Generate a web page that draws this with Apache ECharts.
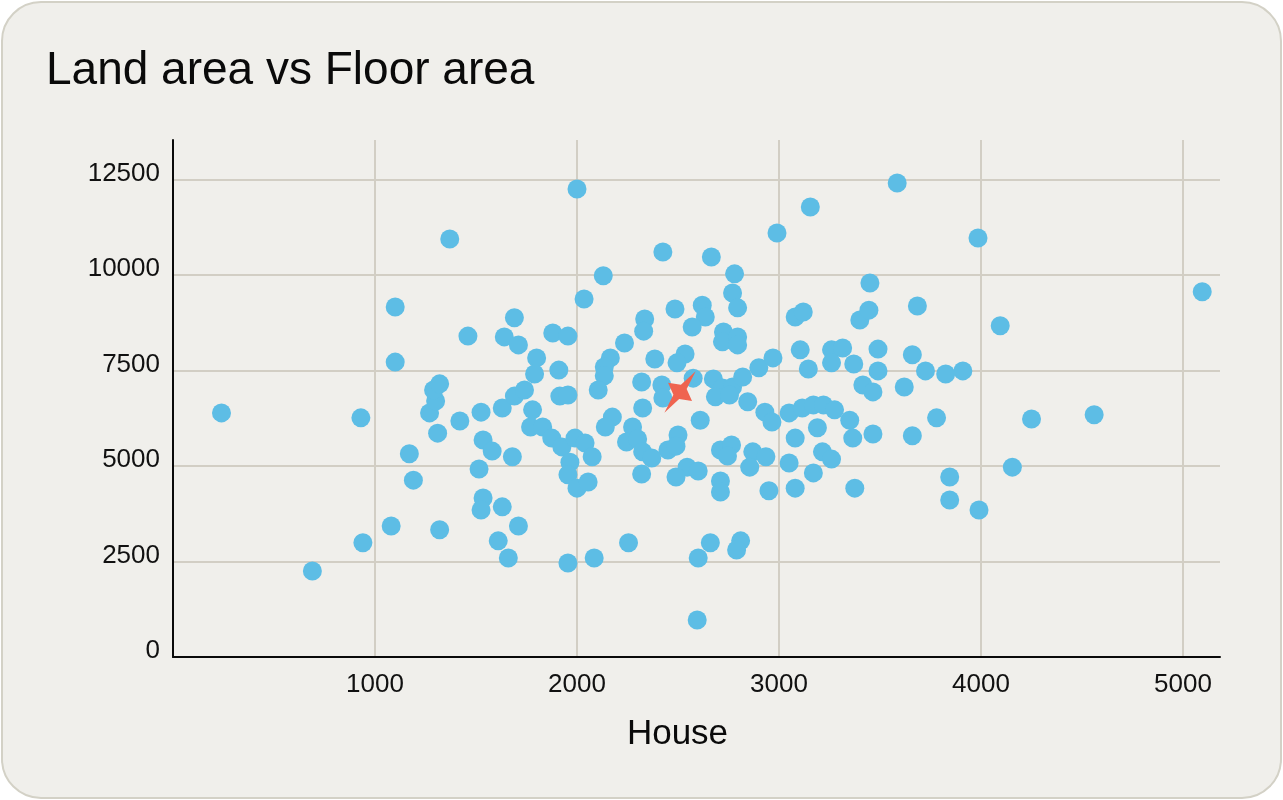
<!DOCTYPE html>
<html>
<head>
<meta charset="utf-8">
<script src="https://cdn.jsdelivr.net/npm/echarts@6/dist/echarts.min.js"></script>
<style>
  html, body { margin: 0; padding: 0; background: #ffffff; }
  #card { position: absolute; left: 1px; top: 1px; width: 1277px; height: 794px;
          background: #f0efeb; border: 2px solid #d3d1c6; border-radius: 40px; }
  #chart { position: absolute; left: 0; top: 0; width: 1283px; height: 800px; }
</style>
</head>
<body>
<div id="card"></div>
<div id="chart"></div>
<script>
const titleText = 'Land area vs Floor area';
const xAxisName = 'House';

// Floor area (x) and land area (y) of each house
const house = [
  240, 690, 930, 940, 1100, 1100, 1080, 1170, 1190, 1370,
  1270, 1300, 1290, 1320, 1310, 1320, 1420, 1460, 1525, 1535,
  1580, 1515, 1535, 1525, 1630, 1710, 1610, 1660, 1630, 1690,
  1740, 1780, 1770, 1830, 1680, 1640, 1690, 1710, 1800, 1790,
  1910, 1880, 1955, 1915, 1955, 1875, 1925, 1990, 2040, 2075,
  1965, 1955, 2000, 2055, 1955, 2085, 2000, 2130, 2035, 2165,
  2135, 2135, 2105, 2235, 2335, 2330, 2320, 2175, 2140, 2275,
  2245, 2300, 2325, 2370, 2320, 2325, 2255, 2385, 2425, 2420,
  2425, 2485, 2620, 2635, 2570, 2665, 2780, 2770, 2795, 2725,
  2720, 2795, 2795, 2535, 2495, 2575, 2675, 2720, 2770, 2820,
  2685, 2755, 2610, 2845, 2900, 2970, 2930, 2965, 2500, 2450,
  2490, 2545, 2600, 2490, 2710, 2765, 2745, 2870, 2935, 2855,
  2710, 2710, 2950, 2660, 2600, 2810, 2790, 2595, 2990, 3155,
  3080, 3120, 3105, 3145, 3260, 3315, 3260, 3370, 3490, 3490,
  3400, 3445, 3450, 3415, 3465, 3050, 3115, 3170, 3220, 3275,
  3350, 3190, 3365, 3465, 3080, 3215, 3260, 3050, 3170, 3080,
  3375, 3585, 3985, 5095, 3685, 4095, 3660, 3725, 3825, 3910,
  3620, 3780, 3660, 4250, 4560, 4155, 3845, 3845, 3990
];
const land = [
  6390, 2250, 6260, 2990, 9160, 7720, 3430, 5320, 4630, 10940,
  6390, 6700, 6990, 7150, 5860, 3330, 6180, 8400, 6410, 5680,
  5390, 4920, 4160, 3850, 3930, 3430, 3040, 2590, 6520, 6830,
  6990, 6470, 6020, 6020, 5240, 8380, 8880, 8170, 7830, 7410,
  7510, 8480, 8400, 6830, 6860, 5730, 5500, 5730, 5600, 5240,
  5100, 4770, 4420, 4580, 2460, 2590, 12250, 9980, 9370, 7830,
  7590, 7360, 6990, 8220, 8850, 8530, 7200, 6280, 6020, 6020,
  5630, 5710, 5370, 5210, 4790, 6520, 2990, 7800, 10600, 7120,
  6780, 9110, 9210, 8900, 8640, 10470, 10030, 9530, 9140, 8510,
  8250, 8380, 8170, 7930, 7700, 7300, 7280, 7040, 7070, 7330,
  6810, 6860, 6200, 6680, 7570, 7830, 6410, 6150, 5810, 5420,
  5520, 4970, 4870, 4710, 5420, 5550, 5260, 5370, 5240, 4970,
  4610, 4320, 4350, 2990, 2590, 3040, 2800, 970, 11100, 11780,
  8900, 9030, 8040, 7540, 8040, 8090, 7700, 7670, 8060, 7490,
  8820, 9080, 9790, 7120, 6940, 6390, 6520, 6600, 6600, 6470,
  6200, 6000, 5730, 5840, 5730, 5370, 5180, 5080, 4820, 4420,
  4420, 12410, 10970, 9560, 9190, 8670, 7910, 7490, 7410, 7490,
  7070, 6260, 5790, 6230, 6340, 4970, 4710, 4110, 3850
];
// Highlighted house (star marker)
const highlightHouse = [2510];
const highlightLand = [6940];

const xTicks = [0, 1000, 2000, 3000, 4000, 5000];
const yTicks = [0, 2500, 5000, 7500, 10000, 12500];

const points = house.map((h, i) => [h, land[i]]);
const starPts = highlightHouse.map((h, i) => [h, highlightLand[i]]);

const FONT = '"Liberation Sans", Arial, Helvetica, sans-serif';
const chart = echarts.init(document.getElementById('chart'), null, { renderer: 'canvas' });
chart.setOption({
  backgroundColor: 'transparent',
  animation: false,
  title: {
    text: titleText, left: 41, top: 43,
    textStyle: { fontFamily: FONT, fontSize: 46, fontWeight: 'normal', color: '#0a0a0a' }
  },
  grid: { left: 173, right: 63, top: 140, bottom: 143, containLabel: false },
  xAxis: {
    type: 'value', min: 0, max: 5183, interval: 1000,
    name: xAxisName, nameLocation: 'middle', nameGap: 60,
    nameTextStyle: { fontFamily: FONT, fontSize: 35, color: '#0a0a0a', padding: [0, 38, 0, 0] },
    axisLine: { show: true, onZero: false, lineStyle: { color: '#0a0a0a', width: 2 } },
    axisTick: { show: false },
    axisLabel: { showMinLabel: false, fontFamily: FONT, fontSize: 26, color: '#111', margin: 15,
                 formatter: v => xTicks.includes(v) ? String(v) : '' },
    splitLine: { show: true, showMinLine: false, showMaxLine: false,
                 lineStyle: { color: '#d2cec4', width: 2 } }
  },
  yAxis: {
    type: 'value', min: 0, max: 13534, interval: 2500,
    axisLine: { show: true, onZero: false, lineStyle: { color: '#0a0a0a', width: 2 } },
    axisTick: { show: false },
    axisLabel: { fontFamily: FONT, fontSize: 26, color: '#111', margin: 13,
                 verticalAlign: 'bottom', lineHeight: 12,
                 formatter: v => yTicks.includes(v) ? String(v) : '' },
    splitLine: { show: true, showMinLine: false, showMaxLine: false,
                 lineStyle: { color: '#d2cec4', width: 2 } }
  },
  series: [
    {
      type: 'scatter', data: points, symbol: 'circle', symbolSize: 19,
      itemStyle: { color: '#5dbde5', opacity: 1 }
    },
    {
      type: 'scatter', data: starPts, z: 5,
      symbol: 'path://M0,-100 L24,-24 L100,0 L24,24 L0,100 L-24,24 L-100,0 L-24,-24 Z',
      symbolSize: [30, 52], symbolRotate: -37,
      itemStyle: { color: '#ef6450', opacity: 1 }
    }
  ]
});
</script>
</body>
</html>
